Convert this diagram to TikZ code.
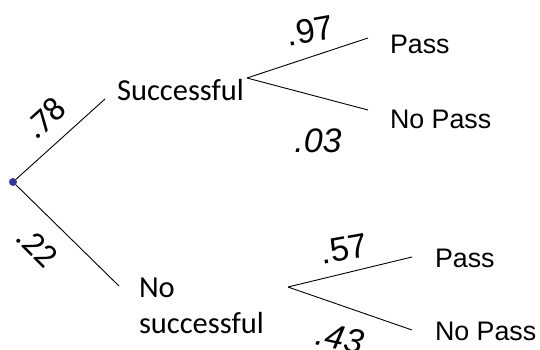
\documentclass[tikz,border=0pt]{standalone}
\usepackage{fontspec}
\setmainfont{Carlito}
\newfontfamily\arialfont{Liberation Sans}
\begin{document}
\begin{tikzpicture}[x=1pt,y=1pt,
  branch/.style={draw=black,line width=0.9pt},
  outcome/.style={anchor=base west,inner sep=0pt,outer sep=0pt,font=\fontsize{30.5}{36}\selectfont},
  result/.style={anchor=base west,inner sep=0pt,outer sep=0pt,font=\arialfont\fontsize{26.8}{31}\selectfont},
  prob/.style={inner sep=0pt,outer sep=0pt,font=\fontsize{34}{40}\selectfont},
  probr/.style={inner sep=0pt,outer sep=0pt,font=\arialfont\fontsize{34}{40}\selectfont}]
\definecolor{fillColor}{RGB}{255,255,255}
\definecolor{dotColor}{RGB}{55,55,155}
\path[use as bounding box,fill=fillColor] (0,0) rectangle (540,349);

% root and first stage
\node[circle,fill=dotColor,inner sep=0pt,minimum size=8pt] (root) at ( 13,167) {};
\coordinate (succEnd) at (105,250);
\coordinate (failEnd) at (119, 63);
\node[outcome] (succ) at (117,249) {Successful};
\node[outcome,anchor=north west,align=left] (fail) at (139, 71) {No\\successful};
\draw[branch] (root) -- (succEnd);
\draw[branch] (root) -- (failEnd);
\node[prob,rotate= 42] (pSucc) at ( 45,231) {.78};
\node[prob,rotate=-45] (pFail) at ( 37,102) {.22};

% second stage, successful
\coordinate (forkS) at (247,271);
\coordinate (passSEnd) at (368,311);
\coordinate (noPassSEnd) at (368,239);
\node[result] (passS) at (390,296) {Pass};
\node[result] (noPassS) at (390,221) {No Pass};
\draw[branch] (forkS) -- (passSEnd);
\draw[branch] (forkS) -- (noPassSEnd);
\node[probr,rotate= 10] (pPassS) at (310,318) {.97};
\node[probr] (pNoPassS) at (318,208) {\itshape .03};

% second stage, no successful
\coordinate (forkF) at (288, 62);
\coordinate (passFEnd) at (412, 92);
\coordinate (noPassFEnd) at (412, 19);
\node[result] (passF) at (435, 82) {Pass};
\node[result] (noPassF) at (435,  9) {No Pass};
\draw[branch] (forkF) -- (passFEnd);
\draw[branch] (forkF) -- (noPassFEnd);
\node[probr,rotate= 10] (pPassF) at (344,100) {.57};
\node[probr,rotate=-12] (pNoPassF) at (340, 11) {\itshape .43};
\end{tikzpicture}
\end{document}
